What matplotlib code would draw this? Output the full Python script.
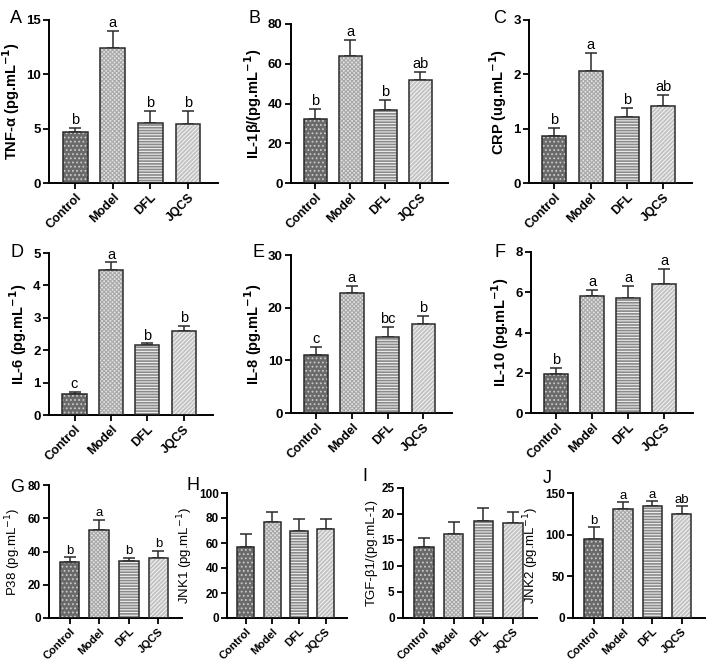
import numpy as np
import matplotlib
matplotlib.use("Agg")
import matplotlib.pyplot as plt

plt.rcParams['font.family'] = ['Liberation Sans', 'DejaVu Sans']
plt.rcParams['hatch.linewidth'] = 0.8

groups = ["Control", "Model", "DFL", "JQCS"]

# means, upper error, significance letters
tnf = [4.7, 12.4, 5.5, 5.4]
tnf_err = [0.4, 1.6, 1.1, 1.2]
tnf_sig = ["b", "a", "b", "b"]

il1b = [32.3, 64.0, 36.5, 51.6]
il1b_err = [5.0, 8.2, 5.5, 4.4]
il1b_sig = ["b", "a", "b", "ab"]

crp = [0.87, 2.06, 1.21, 1.41]
crp_err = [0.14, 0.33, 0.17, 0.21]
crp_sig = ["b", "a", "b", "ab"]

il6 = [0.64, 4.48, 2.16, 2.60]
il6_err = [0.07, 0.23, 0.05, 0.14]
il6_sig = ["c", "a", "b", "b"]

il8 = [11.0, 22.8, 14.5, 16.9]
il8_err = [1.6, 1.4, 1.9, 1.5]
il8_sig = ["c", "a", "bc", "b"]

il10 = [1.93, 5.83, 5.72, 6.43]
il10_err = [0.30, 0.27, 0.61, 0.75]
il10_sig = ["b", "a", "a", "a"]

p38 = [33.5, 53.0, 34.5, 36.0]
p38_err = [3.0, 6.0, 1.6, 4.4]
p38_sig = ["b", "a", "b", "b"]

jnk1 = [56.5, 77.0, 70.0, 71.0]
jnk1_err = [10.5, 8.0, 9.5, 8.5]

tgf = [13.7, 16.2, 18.7, 18.2]
tgf_err = [1.6, 2.3, 2.4, 2.2]

jnk2 = [95.0, 131.0, 135.0, 125.0]
jnk2_err = [14.0, 8.0, 5.0, 9.0]
jnk2_sig = ["b", "a", "a", "ab"]

faces = ["#6a6a6a", "#e2e2e2", "#8a8a8a", "#c2c2c2"]
hatch_cols = ["#c8c8c8", "#a8a8a8", "#eeeeee", "#f0f0f0"]
hatches = ["....", "xxxxxxxx", "------", "////////"]

W, H = 708, 664


def box(l, r, t, b):
    return [l / W, 1 - b / H, (r - l) / W, (b - t) / H]


panels = [
    # letter, (l, r, t, b), letter pos, data, err, sig, ymax, ticks, ylabel, bold
    ("A", (49, 218, 20, 183), (10, 10), tnf, tnf_err, tnf_sig, 15, [0, 5, 10, 15],
     r"TNF-α (pg.mL$^{\mathbf{-1}}$)", True),
    ("B", (291, 448, 24, 183), (248, 10), il1b, il1b_err, il1b_sig, 80, [0, 20, 40, 60, 80],
     r"IL-1β/(pg.mL$^{\mathbf{-1}}$)", True),
    ("C", (529, 692, 20, 183), (493, 10), crp, crp_err, crp_sig, 3, [0, 1, 2, 3],
     r"CRP (ug.mL$^{\mathbf{-1}}$)", True),
    ("D", (49, 213, 253, 415), (10, 244), il6, il6_err, il6_sig, 5, [0, 1, 2, 3, 4, 5],
     r"IL-6 (pg.mL$^{\mathbf{-1}}$)", True),
    ("E", (291, 452, 255, 413), (253, 244), il8, il8_err, il8_sig, 30, [0, 10, 20, 30],
     r"IL-8 (pg.mL$^{\mathbf{-1}}$)", True),
    ("F", (531, 693, 252, 413), (495, 244), il10, il10_err, il10_sig, 8, [0, 2, 4, 6, 8],
     r"IL-10 (pg.mL$^{\mathbf{-1}}$)", True),
    ("G", (49, 182, 485, 618), (10, 479), p38, p38_err, p38_sig, 80, [0, 20, 40, 60, 80],
     r"P38 (pg.mL$^{-1}$)", False),
    ("H", (227, 347, 493, 618), (186, 477), jnk1, jnk1_err, None, 100, [0, 20, 40, 60, 80, 100],
     r"JNK1 (pg.mL$^{-1}$)", False),
    ("I", (403, 537, 488, 618), (362, 468), tgf, tgf_err, None, 25, [0, 5, 10, 15, 20, 25],
     "TGF-β1/(pg.mL-1)", False),
    ("J", (573, 705, 493, 618), (543, 470), jnk2, jnk2_err, jnk2_sig, 150, [0, 50, 100, 150],
     r"JNK2 (pg.mL$^{-1}$)", False),
]

fig = plt.figure(figsize=(W / 100, H / 100), dpi=100)
x = np.arange(len(groups))

for letter, pos, lpos, vals, errs, sig, ymax, ticks, ylabel, bold in panels:
    ax = fig.add_axes(box(*pos))
    small = not bold
    for i in range(len(groups)):
        ax.bar(x[i], vals[i], width=0.66, color=faces[i], edgecolor=hatch_cols[i],
               hatch=hatches[i], linewidth=0, zorder=2)
        ax.bar(x[i], vals[i], width=0.66, fill=False, edgecolor="#2a2a2a",
               linewidth=1.1, zorder=3)
    ax.errorbar(x, vals, yerr=[np.zeros(len(vals)), errs], fmt="none", ecolor="#2a2a2a",
                elinewidth=1.1, capsize=4.5, capthick=1.1, zorder=1)
    if sig is not None:
        for i in range(len(groups)):
            ax.text(x[i], vals[i] + errs[i] + ymax * 0.005, sig[i], ha="center", va="bottom",
                    fontsize=9.5 if small else 10.5)
    ax.set_xlim(-0.7, 3.8)
    ax.set_ylim(0, ymax)
    ax.set_yticks(ticks)
    ax.set_xticks(x)
    ax.set_xticklabels(groups, rotation=45, ha="right", rotation_mode="anchor",
                       fontweight="bold", fontsize=8 if small else 9)
    for t in ax.get_yticklabels():
        t.set_fontweight("bold")
        t.set_fontsize(8.5 if small else 9.5)
    ax.spines["top"].set_visible(False)
    ax.spines["right"].set_visible(False)
    ax.spines["left"].set_linewidth(1.4)
    ax.spines["bottom"].set_linewidth(1.4)
    ax.tick_params(axis="both", width=1.3, length=4, pad=2)
    ax.set_ylabel(ylabel, fontweight="bold" if bold else "normal",
                  fontsize=10.5 if bold else 9.5, labelpad=3)
    fig.text(lpos[0] / W, 1 - lpos[1] / H, letter, fontsize=13, ha="left", va="top")

fig.savefig("out.png", dpi=100)
